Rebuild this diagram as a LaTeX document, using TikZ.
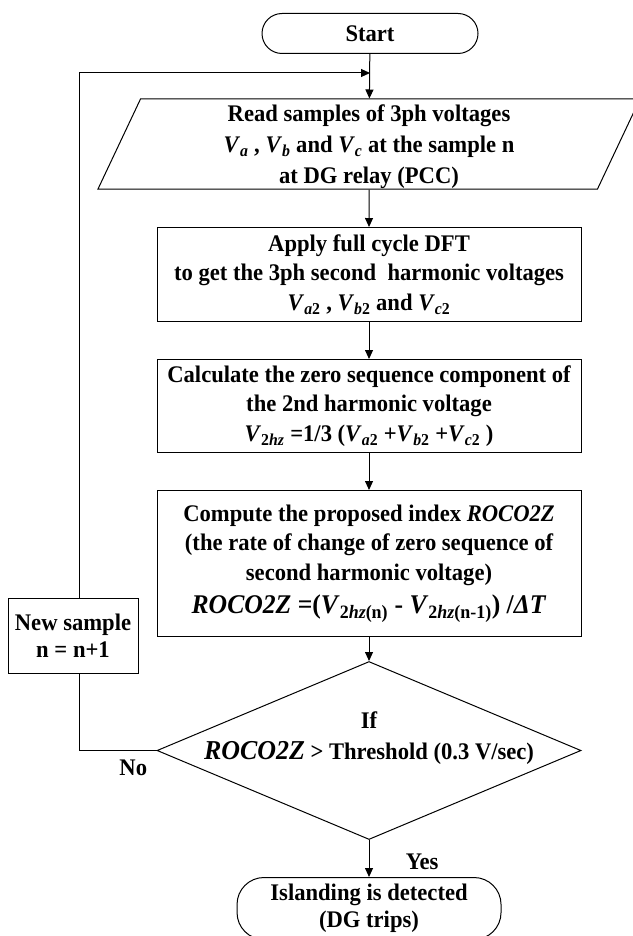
\documentclass[tikz,border=0pt]{standalone}
\usepackage{fontspec}
\setmainfont{Liberation Serif}[FakeStretch=0.95]
\usetikzlibrary{shapes.geometric, shapes.misc, arrows.meta, positioning}

\newcommand{\Vs}[1]{\textit{V}\textsubscript{#1}}
\newcommand{\roco}{\textit{ROCO2Z}}

\begin{document}
\begin{tikzpicture}[x=1pt, y=-1pt,
        >={Triangle[length=9pt, width=8pt]},
        every node/.style={font=\fontsize{23.8}{29.5}\selectfont\bfseries},
        term/.style={rectangle, rounded corners=20pt, draw=black, line width=1pt, minimum width=216pt, minimum height=40pt, inner sep=0pt, align=center},
        inout/.style={trapezium, trapezium left angle=64.5, trapezium right angle=115.5, trapezium stretches body=true, draw=black, line width=1pt, minimum width=542pt, minimum height=90pt, inner sep=0pt, align=center},
        proc/.style={rectangle, draw=black, line width=1pt, minimum width=424pt, inner sep=2pt, align=center},
        decision/.style={diamond, draw=black, line width=1pt, minimum width=424pt, minimum height=178pt, inner sep=0pt, align=center}
    ]
        \useasboundingbox (0,0) rectangle (632,936);

        \node (start) [term] at (370,33.5) {Start};
        \node (read) [inout] at (369,144) {\rule{0pt}{22pt}Read samples of 3ph voltages\\[2pt] \Vs{\textit{a}}~, \Vs{\textit{b}} and \Vs{\textit{c}} at the sample n\\[1pt] at DG relay (PCC)};
        \node (dft) [proc, minimum height=94pt, below=37.5pt of read] {Apply full cycle DFT\\ to get the 3ph second~ harmonic voltages\\ \Vs{\textit{a}2}~, \Vs{\textit{b}2} and \Vs{\textit{c}2}};
        \node (zero) [proc, minimum height=93pt, below=37pt of dft] {Calculate the zero sequence component of\\ the 2nd harmonic voltage\\ \Vs{2\textit{hz}} =1/3 (\Vs{\textit{a}2} +\Vs{\textit{b}2} +\Vs{\textit{c}2} )};
        \node (roco) [proc, minimum height=146pt, below=37pt of zero] {Compute the proposed index \roco\\ (the rate of change of zero sequence of\\ second harmonic voltage)\\[4pt] {\fontsize{27}{31}\selectfont \roco{} =(\Vs{2\textit{hz}(n)} - \Vs{2\textit{hz}(n-1)}) /\textit{ΔT}}};
        \node (test) [decision, below=24pt of roco] {If\\[2pt] \makebox[0pt]{{\fontsize{27.3}{30}\selectfont\roco} > Threshold (0.3 V/sec)}\\ ~};
        \node (stop) [term, rounded corners=27pt, minimum width=264pt, minimum height=62pt, below=37pt of test] {Islanding is detected\\[-3pt] (DG trips)};
        \node (newsample) [proc, minimum width=130pt, minimum height=75pt] at (73,635.5) {New sample\\[-2pt] n = n+1};
        \coordinate (merge) at (370,73);

        % main column
        \draw [->, line width=1pt] (start) -- (read);
        \draw [->, line width=1pt] (read) -- (dft);
        \draw [->, line width=1pt] (dft) -- (zero);
        \draw [->, line width=1pt] (zero) -- (roco);
        \draw [->, line width=1pt] (roco) -- (test);
        \draw [->, line width=1pt] (test) -- node [pos=0.6, right=33pt] {Yes} (stop);

        % loop back for the next sample
        \draw [line width=1pt] (test.west) -| node [pos=0.15, below=6pt] {No} ([xshift=6pt]newsample.south);
        \draw [->, line width=1pt] ([xshift=6pt]newsample.north) |- (merge);
    \end{tikzpicture}
\end{document}
